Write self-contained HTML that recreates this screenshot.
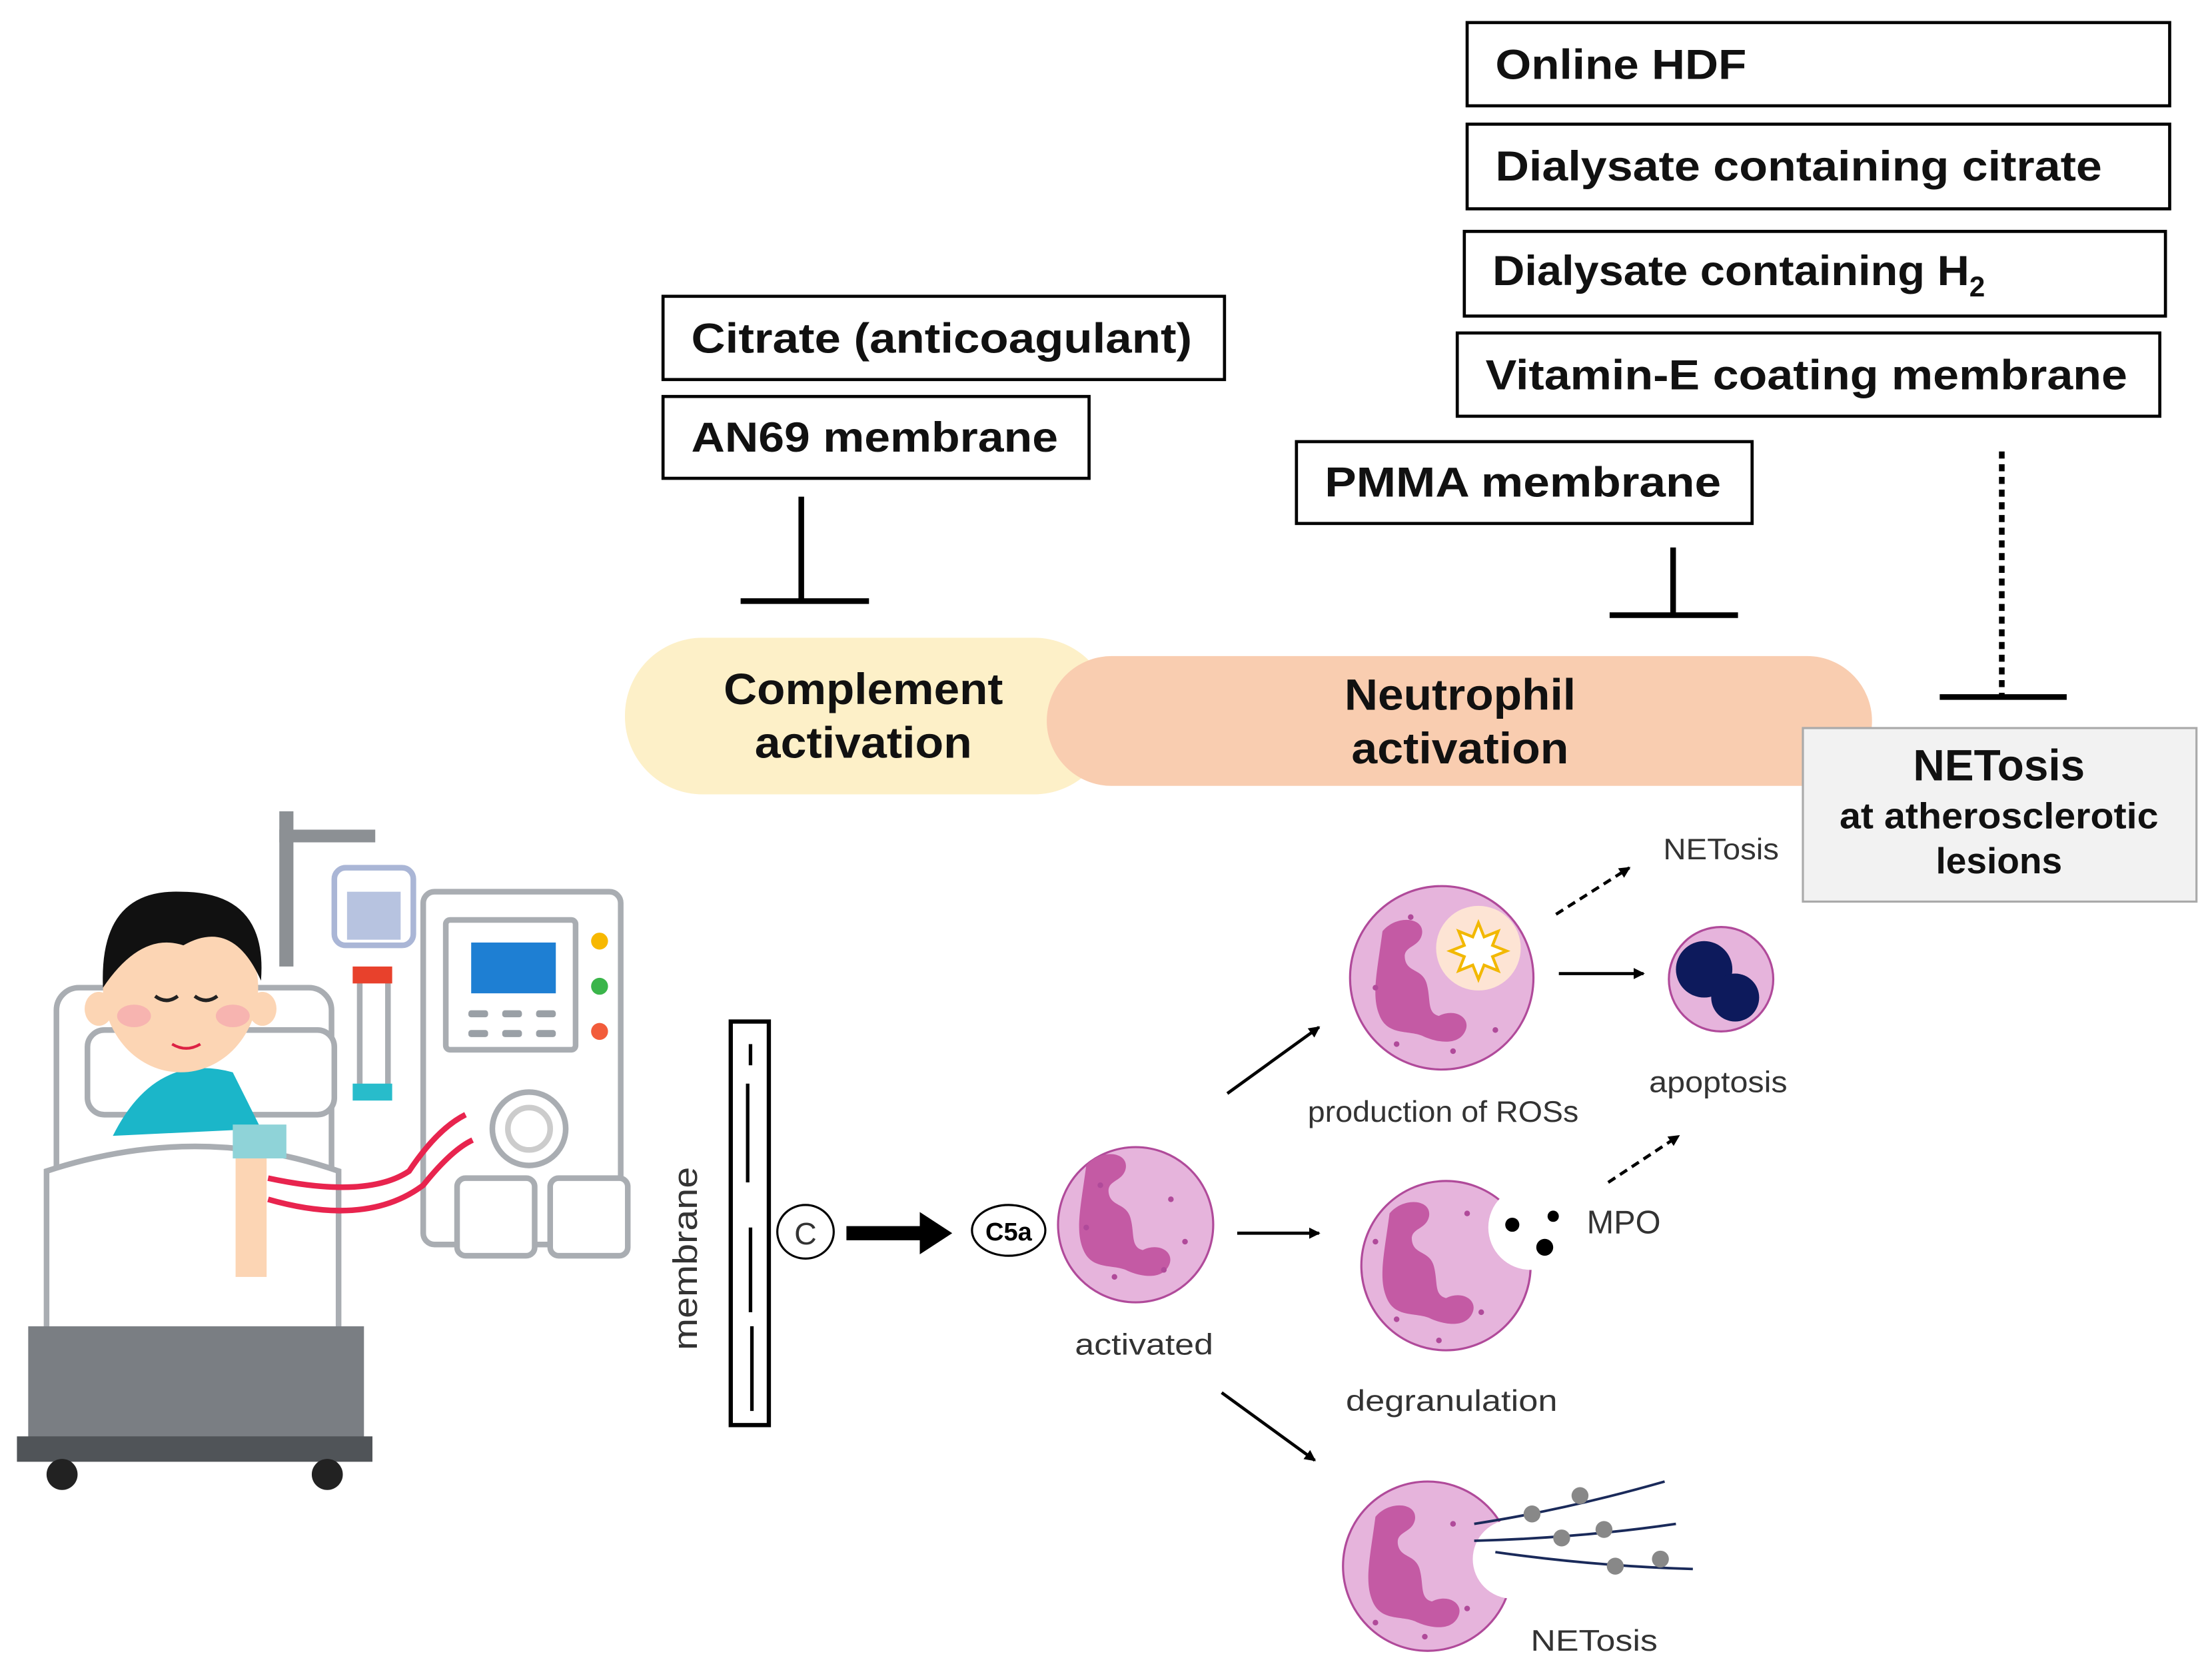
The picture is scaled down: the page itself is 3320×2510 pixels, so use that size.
<!DOCTYPE html>
<html><head><meta charset="utf-8"><style>html,body{margin:0;padding:0;background:#fff}svg{display:block}</style></head>
<body>
<svg width="3320" height="2510" viewBox="0 0 1568 1185" preserveAspectRatio="none" xmlns="http://www.w3.org/2000/svg" font-family="Liberation Sans, sans-serif">
<defs>
<marker id="ah" markerWidth="8" markerHeight="8" refX="7" refY="4" orient="auto" markerUnits="userSpaceOnUse"><path d="M0,0 L8,4 L0,8 z" fill="#000"/></marker>
<g id="nuc">
<path d="M-30,-40 C-20,-52 0,-50 -2,-38 C-4,-28 -16,-30 -14,-20 C-12,-10 0,-14 2,0 C4,10 2,18 10,20 C22,14 34,22 28,32 C22,42 6,38 -2,34 C-12,30 -26,34 -32,20 C-38,6 -34,-10 -30,-40 Z" fill="#c45aa4"/>
</g>
</defs>

<g fill="#fff" stroke="#000" stroke-width="2.2">
<rect x="1040" y="16" width="498" height="59"/>
<rect x="1040" y="88" width="498" height="60"/>
<rect x="1038" y="164" width="497" height="60"/>
<rect x="1033" y="236" width="498" height="59"/>
<rect x="919" y="313" width="323" height="58"/>
<rect x="470" y="210" width="398" height="59"/>
<rect x="470" y="281" width="302" height="58"/>
</g>
<g font-weight="bold" font-size="30" fill="#111" lengthAdjust="spacingAndGlyphs">
<text x="1060" y="56" textLength="178" lengthAdjust="spacingAndGlyphs">Online HDF</text>
<text x="1060" y="128" textLength="430" lengthAdjust="spacingAndGlyphs">Dialysate containing citrate</text>
<text x="1058" y="202"><tspan textLength="338" lengthAdjust="spacingAndGlyphs">Dialysate containing H</tspan><tspan font-size="20" dy="8">2</tspan></text>
<text x="1053" y="276" textLength="455" lengthAdjust="spacingAndGlyphs">Vitamin-E coating membrane</text>
<text x="939" y="352" textLength="281" lengthAdjust="spacingAndGlyphs">PMMA membrane</text>
<text x="490" y="250" textLength="355" lengthAdjust="spacingAndGlyphs">Citrate (anticoagulant)</text>
<text x="490" y="320" textLength="260" lengthAdjust="spacingAndGlyphs">AN69 membrane</text>
</g>

<g stroke="#000" stroke-width="4" fill="none">
<line x1="568" y1="352" x2="568" y2="426"/><line x1="525" y1="426" x2="616" y2="426"/>
<line x1="1186" y1="388" x2="1186" y2="436"/><line x1="1141" y1="436" x2="1232" y2="436"/>
<line x1="1419" y1="320" x2="1419" y2="494" stroke-dasharray="5,4"/><line x1="1375" y1="494" x2="1465" y2="494"/>
</g>

<rect x="443" y="452" width="345" height="111" rx="55" fill="#fdf0c8"/>
<rect x="742" y="465" width="585" height="92" rx="46" fill="#f9cdb0"/>
<g font-weight="bold" font-size="31" fill="#111" text-anchor="middle">
<text x="612" y="499" textLength="198" lengthAdjust="spacingAndGlyphs">Complement</text><text x="612" y="537" textLength="154" lengthAdjust="spacingAndGlyphs">activation</text>
<text x="1035" y="503" textLength="164" lengthAdjust="spacingAndGlyphs">Neutrophil</text><text x="1035" y="541" textLength="154" lengthAdjust="spacingAndGlyphs">activation</text>
</g>
<rect x="1278" y="516" width="279" height="123" fill="#f2f2f2" stroke="#aaa" stroke-width="1.5"/>
<g text-anchor="middle" fill="#111" font-weight="bold">
<text x="1417" y="553" font-size="31">NETosis</text>
<text x="1417" y="587" font-size="26" textLength="226" lengthAdjust="spacingAndGlyphs">at atherosclerotic</text>
<text x="1417" y="619" font-size="26">lesions</text>
</g>

<rect x="518" y="724" width="27" height="286" fill="#fff" stroke="#000" stroke-width="3"/>
<g stroke="#000" stroke-width="2.5">
<line x1="530" y1="768" x2="530" y2="838"/><line x1="532" y1="870" x2="532" y2="930"/>
<line x1="533" y1="940" x2="533" y2="1000"/><line x1="532" y1="740" x2="532" y2="755"/>
</g>
<text transform="translate(494,892) rotate(-90)" text-anchor="middle" font-size="24" fill="#333" textLength="130" lengthAdjust="spacingAndGlyphs">membrane</text>
<ellipse cx="571" cy="873" rx="20" ry="19" fill="#fff" stroke="#000" stroke-width="1.5"/>
<text x="571" y="882" text-anchor="middle" font-size="22" fill="#333">C</text>
<path d="M600,869 L652,869 L652,859 L675,874 L652,889 L652,879 L600,879 Z" fill="#000"/>
<ellipse cx="715" cy="872" rx="26" ry="18" fill="#fff" stroke="#000" stroke-width="1.5"/>
<text x="715" y="879" text-anchor="middle" font-size="18" font-weight="bold">C5a</text>

<g stroke="#b04a9a" stroke-width="1.5" fill="#e6b4dc">
<circle cx="805" cy="868" r="55"/>
<circle cx="1022" cy="693" r="65"/>
<circle cx="1025" cy="897" r="60"/>
<circle cx="1012" cy="1110" r="60"/>
<circle cx="1220" cy="694" r="37"/>
</g>
<use href="#nuc" x="800" y="866"/>
<use href="#nuc" x="1010" y="700"/>
<use href="#nuc" x="1015" y="900"/>
<use href="#nuc" x="1005" y="1115"/>
<circle cx="1048" cy="672" r="30" fill="#fde4d4"/>
<path d="M1048,654 l4,10 10,-4 -4,10 10,4 -10,4 4,10 -10,-4 -4,10 -4,-10 -10,4 4,-10 -10,-4 10,-4 -4,-10 10,4z" fill="#fff" stroke="#f2b800" stroke-width="2"/>
<circle cx="1085" cy="870" r="30" fill="#fff"/>
<circle cx="1072" cy="1105" r="28" fill="#fff"/>
<circle cx="1208" cy="687" r="20" fill="#0d1a5c"/><circle cx="1230" cy="707" r="17" fill="#0d1a5c"/>
<g fill="#b04a9a">
<circle cx="780" cy="840" r="2"/><circle cx="830" cy="850" r="2"/><circle cx="840" cy="880" r="2"/><circle cx="790" cy="905" r="2"/><circle cx="825" cy="900" r="2"/><circle cx="770" cy="870" r="2"/>
<circle cx="1000" cy="650" r="2"/><circle cx="1060" cy="730" r="2"/><circle cx="990" cy="740" r="2"/><circle cx="1030" cy="745" r="2"/><circle cx="975" cy="700" r="2"/>
<circle cx="1040" cy="860" r="2"/><circle cx="1050" cy="930" r="2"/><circle cx="990" cy="935" r="2"/><circle cx="1020" cy="950" r="2"/><circle cx="975" cy="880" r="2"/>
<circle cx="1030" cy="1080" r="2"/><circle cx="1040" cy="1140" r="2"/><circle cx="975" cy="1150" r="2"/><circle cx="1010" cy="1160" r="2"/>
</g>
<g fill="#000"><circle cx="1072" cy="868" r="5"/><circle cx="1101" cy="862" r="4"/><circle cx="1095" cy="884" r="6"/></g>
<g stroke="#1a2a5a" stroke-width="1.8" fill="none">
<path d="M1045,1080 Q1110,1070 1180,1050"/><path d="M1045,1092 Q1120,1090 1188,1080"/><path d="M1060,1100 Q1130,1110 1200,1112"/>
</g>
<g fill="#888"><circle cx="1086" cy="1073" r="6"/><circle cx="1120" cy="1060" r="6"/><circle cx="1107" cy="1090" r="6"/><circle cx="1137" cy="1084" r="6"/><circle cx="1145" cy="1110" r="6"/><circle cx="1177" cy="1105" r="6"/></g>

<g stroke="#000" stroke-width="2.2" fill="none">
<line x1="870" y1="775" x2="935" y2="728" marker-end="url(#ah)"/>
<line x1="877" y1="874" x2="935" y2="874" marker-end="url(#ah)"/>
<line x1="866" y1="987" x2="932" y2="1035" marker-end="url(#ah)"/>
<line x1="1105" y1="690" x2="1165" y2="690" marker-end="url(#ah)"/>
<line x1="1103" y1="648" x2="1155" y2="615" stroke-dasharray="6,4" marker-end="url(#ah)"/>
<line x1="1140" y1="838" x2="1190" y2="805" stroke-dasharray="6,4" marker-end="url(#ah)"/>
</g>
<g font-size="21" fill="#333" text-anchor="middle">
<text x="811" y="960" textLength="98" lengthAdjust="spacingAndGlyphs">activated</text>
<text x="1023" y="795" textLength="192" lengthAdjust="spacingAndGlyphs">production of ROSs</text>
<text x="1218" y="774" textLength="98" lengthAdjust="spacingAndGlyphs">apoptosis</text>
<text x="1029" y="1000" textLength="150" lengthAdjust="spacingAndGlyphs">degranulation</text>
<text x="1130" y="1170" textLength="90" lengthAdjust="spacingAndGlyphs">NETosis</text>
<text x="1220" y="609" textLength="82" lengthAdjust="spacingAndGlyphs">NETosis</text>
<text x="1151" y="874" font-size="23">MPO</text>
</g>

<g stroke="#a9adb2" stroke-width="4" fill="#fff">
<rect x="198" y="575" width="10" height="110" fill="#8c9094" stroke="none"/>
<rect x="198" y="588" width="68" height="9" fill="#8c9094" stroke="none"/>
<rect x="237" y="615" width="56" height="55" rx="8" stroke="#aab6d6"/>
<rect x="246" y="632" width="38" height="34" fill="#b7c3e0" stroke="none"/>
<rect x="300" y="632" width="140" height="250" rx="8"/>
<rect x="316" y="652" width="92" height="92" rx="3"/>
<rect x="334" y="668" width="60" height="36" fill="#1e7fd3" stroke="none"/>
<circle cx="375" cy="800" r="26"/><circle cx="375" cy="800" r="15" stroke="#ccc"/>
<rect x="324" y="835" width="55" height="55" rx="6"/><rect x="390" y="835" width="55" height="55" rx="6"/>
<rect x="255" y="690" width="20" height="86" />
<rect x="40" y="700" width="195" height="250" rx="16"/>
<rect x="62" y="730" width="175" height="60" rx="12"/>
</g>
<g fill="#9aa0a6"><rect x="332" y="716" width="14" height="5" rx="2"/><rect x="356" y="716" width="14" height="5" rx="2"/><rect x="380" y="716" width="14" height="5" rx="2"/><rect x="332" y="730" width="14" height="5" rx="2"/><rect x="356" y="730" width="14" height="5" rx="2"/><rect x="380" y="730" width="14" height="5" rx="2"/></g>
<circle cx="425" cy="667" r="6" fill="#f7b800"/><circle cx="425" cy="699" r="6" fill="#3ab54a"/><circle cx="425" cy="731" r="6" fill="#f25c3b"/>
<rect x="250" y="685" width="28" height="12" fill="#e8412c"/><rect x="250" y="768" width="28" height="12" fill="#28bccb"/>
<path d="M80,805 Q110,745 165,760 L185,800 Z" fill="#1bb6c9"/>
<ellipse cx="128" cy="700" rx="55" ry="60" fill="#fcd5b4"/>
<path d="M73,700 Q70,630 128,632 Q190,632 185,695 Q165,650 130,670 Q100,660 73,700 Z" fill="#111"/>
<ellipse cx="70" cy="715" rx="10" ry="12" fill="#fcd5b4"/><ellipse cx="186" cy="715" rx="10" ry="12" fill="#fcd5b4"/>
<ellipse cx="95" cy="720" rx="12" ry="8" fill="#f7b4b0"/><ellipse cx="165" cy="720" rx="12" ry="8" fill="#f7b4b0"/>
<g stroke="#222" stroke-width="2.5" fill="none"><path d="M110,706 q8,6 16,0"/><path d="M138,706 q8,6 16,0"/></g>
<path d="M122,740 q10,6 20,0" stroke="#d24" stroke-width="2" fill="none"/>
<path d="M33,830 Q140,795 240,830 L240,945 L33,945 Z" fill="#fff" stroke="#a9adb2" stroke-width="4"/>
<rect x="167" y="805" width="22" height="100" fill="#fcd5b4"/>
<rect x="165" y="797" width="38" height="24" fill="#8fd3d8"/>
<g stroke="#e8244e" stroke-width="4" fill="none">
<path d="M190,835 Q260,850 290,830 Q310,800 330,790"/><path d="M190,850 Q260,870 300,840 Q320,815 335,808"/>
</g>
<rect x="20" y="940" width="238" height="80" fill="#7a7e83"/>
<rect x="12" y="1018" width="252" height="18" fill="#505458"/>
<circle cx="44" cy="1045" r="11" fill="#222"/><circle cx="232" cy="1045" r="11" fill="#222"/>
</svg>
</body></html>
